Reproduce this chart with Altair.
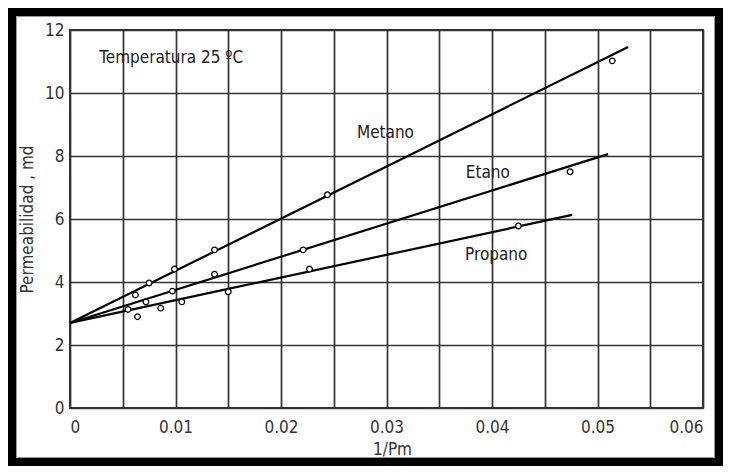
import altair as alt
import pandas as pd

# ---- data ----
series = ["Metano", "Etano", "Propano"]
line_x0 = [0.0, 0.0, 0.0]
line_y0 = [2.7, 2.7, 2.7]
line_x1 = [0.0529, 0.0510, 0.0476]
line_y1 = [11.46, 8.06, 6.13]

metano_x = [0.0062, 0.0075, 0.0099, 0.0137, 0.0244, 0.0514]
metano_y = [3.59, 3.97, 4.41, 5.02, 6.77, 11.02]
etano_x = [0.0072, 0.0097, 0.0137, 0.0221, 0.0474]
etano_y = [3.37, 3.71, 4.25, 5.02, 7.50]
propano_x = [0.0055, 0.0064, 0.0086, 0.0106, 0.0150, 0.0227, 0.0425]
propano_y = [3.13, 2.90, 3.17, 3.37, 3.69, 4.41, 5.78]

label_text = ["Metano", "Etano", "Propano", "Temperatura 25 ºC"]
label_x = [0.0299, 0.0396, 0.0404, 0.0096]
label_y = [8.73, 7.46, 4.86, 11.11]

x_ticks = [0, 0.005, 0.01, 0.015, 0.02, 0.025, 0.03, 0.035, 0.04, 0.045, 0.05, 0.055, 0.06]
y_ticks = [0, 2, 4, 6, 8, 10, 12]

FONT = "Liberation Sans Narrow, Arial Narrow, DejaVu Sans Condensed, sans-serif"

lines_df = pd.DataFrame(
    [{"serie": s, "x": x, "y": y, "o": 0} for s, x, y in zip(series, line_x0, line_y0)]
    + [{"serie": s, "x": x, "y": y, "o": 1} for s, x, y in zip(series, line_x1, line_y1)]
)
pts_df = pd.DataFrame(
    [{"serie": "Metano", "x": x, "y": y} for x, y in zip(metano_x, metano_y)]
    + [{"serie": "Etano", "x": x, "y": y} for x, y in zip(etano_x, etano_y)]
    + [{"serie": "Propano", "x": x, "y": y} for x, y in zip(propano_x, propano_y)]
)
lab_df = pd.DataFrame({"t": label_text, "x": label_x, "y": label_y})

xscale = alt.Scale(domain=[0, 0.06], nice=False, zero=False)
yscale = alt.Scale(domain=[0, 12], nice=False)

xenc = alt.X(
    "x:Q",
    scale=xscale,
    title="1/Pm",
    axis=alt.Axis(
        values=x_ticks,
        labelExpr="round(datum.value*200) % 2 == 0 ? format(datum.value, '.2~f') : ''",
        labelPadding=11,
        titlePadding=6,
        titleX=322,
    ),
)
yenc = alt.Y(
    "y:Q",
    scale=yscale,
    title="Permeabilidad , md",
    axis=alt.Axis(values=y_ticks, labelPadding=6, titlePadding=8),
)

frame_df = pd.DataFrame({"k": [0]})
frame = alt.Chart(frame_df).mark_rect(
    filled=False, stroke="black", strokeWidth=8
).encode(
    x=alt.value(-58), x2=alt.value(649), y=alt.value(-18), y2=alt.value(432)
)
inner = alt.Chart(frame_df).mark_rect(
    filled=False, stroke="#9a9a9a", strokeWidth=1
).encode(
    x=alt.value(-53.5), x2=alt.value(644.5), y=alt.value(-13.5), y2=alt.value(427.5)
)

lines = alt.Chart(lines_df).mark_line(color="black", strokeWidth=2.2).encode(
    x=xenc, y=yenc, detail="serie:N", order="o:Q"
)
points = alt.Chart(pts_df).mark_point(
    shape="circle", filled=True, fill="white", stroke="black", strokeWidth=1.3, size=32, opacity=1
).encode(x="x:Q", y="y:Q")
labels = alt.Chart(lab_df).mark_text(
    font=FONT, fontSize=17, color="#222", align="center", baseline="middle"
).encode(x="x:Q", y="y:Q", text="t:N")

chart = (
    alt.layer(lines, points, labels, frame, inner)
    .properties(width=633, height=378, padding=0, background="white")
    .configure_view(stroke="#333", strokeWidth=2)
    .configure_axis(
        labelFont=FONT,
        titleFont=FONT,
        labelFontSize=17,
        titleFontSize=17,
        labelColor="#333",
        titleColor="#333",
        titleFontWeight="normal",
        grid=True,
        gridColor="#333333",
        gridWidth=1.7,
        gridOpacity=1,
        domain=False,
        ticks=False,
        tickSize=0,
    )
)

chart.save("out.html", embed_options={"renderer": "svg", "actions": False})
